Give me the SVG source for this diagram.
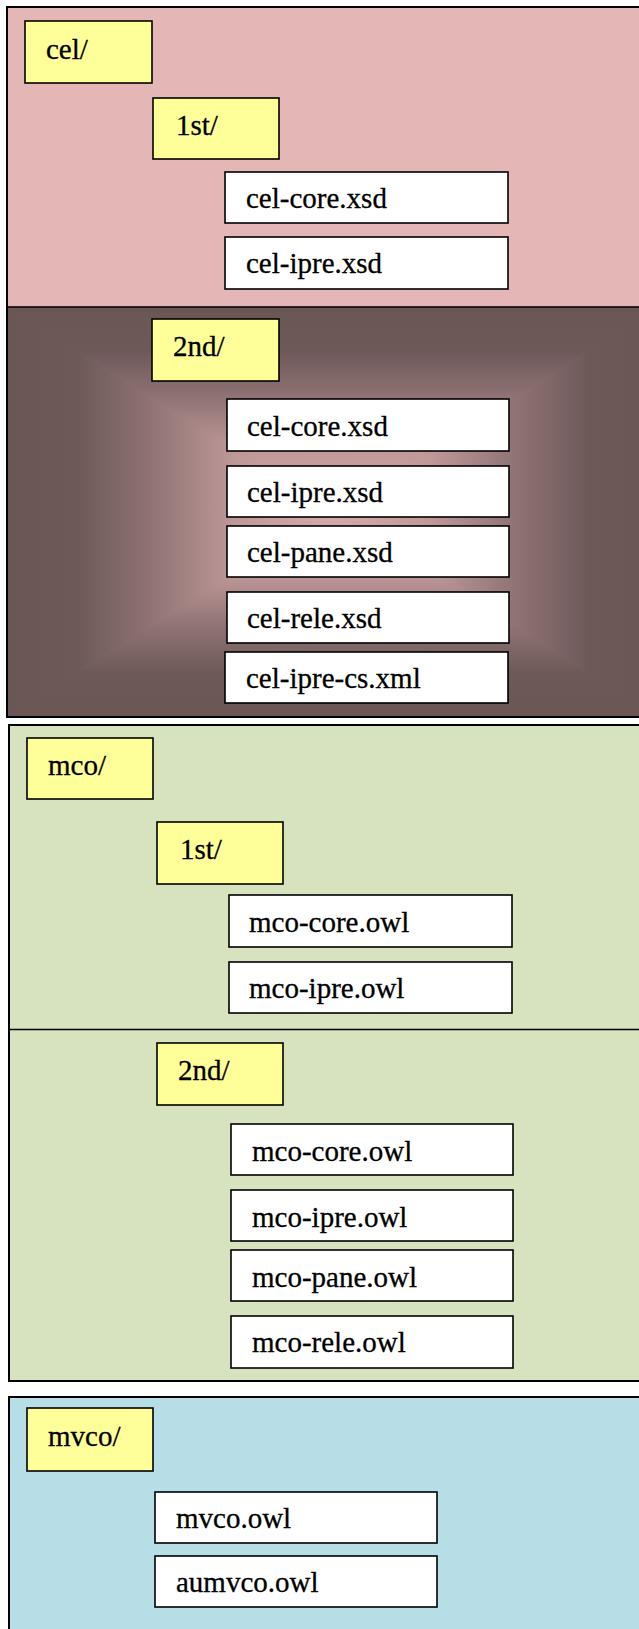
<svg xmlns="http://www.w3.org/2000/svg" width="639" height="1629" viewBox="0 0 639 1629">
  <defs>
    <style>
      .frame { stroke: #000; stroke-width: 2; }
      .divider { stroke: #000; stroke-width: 1.5; fill: none; }
      .folder { fill: #ffff99; stroke: #000; stroke-width: 1.6; }
      .file { fill: #ffffff; stroke: #000; stroke-width: 1.6; }
      .t { font-family: 'Liberation Serif', Tinos, 'DejaVu Serif', serif; font-size: 29px; fill: #000; stroke: #000; stroke-width: 0.3; }
    </style>
    <linearGradient id="gTop" gradientUnits="userSpaceOnUse" x1="0" y1="307" x2="0" y2="512">
      <stop offset="0" stop-color="#6b5656"/>
      <stop offset="0.22" stop-color="#6e5959"/>
      <stop offset="0.45" stop-color="#917475"/>
      <stop offset="0.7" stop-color="#bf9898"/>
      <stop offset="1" stop-color="#d8aaaa"/>
    </linearGradient>
    <linearGradient id="gBottom" href="#gTop" gradientUnits="userSpaceOnUse" x1="0" y1="717" x2="0" y2="512"/>
    <linearGradient id="gLeft" href="#gTop" gradientUnits="userSpaceOnUse" x1="7" y1="0" x2="333" y2="0"/>
    <linearGradient id="gRight" href="#gTop" gradientUnits="userSpaceOnUse" x1="660" y1="0" x2="333" y2="0"/>
  </defs>

  <!-- cel section -->
  <g id="cel-section">
    <rect x="7" y="7" width="653" height="300" fill="#e4b6b6"/>
    <g id="cel-2nd-bg">
      <rect x="7" y="307" width="653" height="410" fill="#8a6f6f"/>
      <polygon points="7,307 660,307 333,512" fill="url(#gTop)" stroke="url(#gTop)" stroke-width="0.6"/>
      <polygon points="7,717 660,717 333,512" fill="url(#gBottom)" stroke="url(#gBottom)" stroke-width="0.6"/>
      <polygon points="7,307 7,717 333,512" fill="url(#gLeft)" stroke="url(#gLeft)" stroke-width="0.6"/>
      <polygon points="660,307 660,717 333,512" fill="url(#gRight)" stroke="url(#gRight)" stroke-width="0.6"/>
    </g>
    <line class="divider" x1="7" y1="307" x2="660" y2="307"/>
    <rect class="frame" x="7" y="7" width="653" height="710" fill="none"/>
  </g>

  <g id="cel"><rect class="folder" x="25" y="21" width="127" height="62"/><text class="t" x="46" y="59">cel/</text></g>
  <g id="cel-1st"><rect class="folder" x="153" y="98" width="126" height="61"/><text class="t" x="176" y="135">1st/</text></g>
  <g id="cel-1st-core"><rect class="file" x="225" y="172" width="283" height="51"/><text class="t" x="246" y="208">cel-core.xsd</text></g>
  <g id="cel-1st-ipre"><rect class="file" x="225" y="237" width="283" height="52"/><text class="t" x="246" y="273">cel-ipre.xsd</text></g>
  <g id="cel-2nd"><rect class="folder" x="152" y="319" width="127" height="62"/><text class="t" x="173" y="356">2nd/</text></g>
  <g id="cel-2nd-core"><rect class="file" x="227" y="399" width="282" height="52"/><text class="t" x="247" y="436">cel-core.xsd</text></g>
  <g id="cel-2nd-ipre"><rect class="file" x="227" y="466" width="282" height="51"/><text class="t" x="247" y="502">cel-ipre.xsd</text></g>
  <g id="cel-2nd-pane"><rect class="file" x="227" y="526" width="282" height="51"/><text class="t" x="247" y="562">cel-pane.xsd</text></g>
  <g id="cel-2nd-rele"><rect class="file" x="227" y="592" width="282" height="51"/><text class="t" x="247" y="628">cel-rele.xsd</text></g>
  <g id="cel-2nd-ipre-cs"><rect class="file" x="225" y="652" width="283" height="51"/><text class="t" x="246" y="688">cel-ipre-cs.xml</text></g>

  <!-- mco section -->
  <g id="mco-section">
    <rect class="frame" x="9" y="725" width="651" height="656" fill="#d7e3bf"/>
    <line class="divider" x1="9" y1="1029.5" x2="660" y2="1029.5"/>
  </g>

  <g id="mco"><rect class="folder" x="27" y="738" width="126" height="61"/><text class="t" x="48" y="775">mco/</text></g>
  <g id="mco-1st"><rect class="folder" x="157" y="822" width="126" height="62"/><text class="t" x="180" y="859">1st/</text></g>
  <g id="mco-1st-core"><rect class="file" x="229" y="895" width="283" height="52"/><text class="t" x="249" y="932">mco-core.owl</text></g>
  <g id="mco-1st-ipre"><rect class="file" x="229" y="962" width="283" height="51"/><text class="t" x="249" y="998">mco-ipre.owl</text></g>
  <g id="mco-2nd"><rect class="folder" x="157" y="1043" width="126" height="62"/><text class="t" x="178" y="1080">2nd/</text></g>
  <g id="mco-2nd-core"><rect class="file" x="231" y="1124" width="282" height="51"/><text class="t" x="252" y="1161">mco-core.owl</text></g>
  <g id="mco-2nd-ipre"><rect class="file" x="231" y="1190" width="282" height="51"/><text class="t" x="252" y="1227">mco-ipre.owl</text></g>
  <g id="mco-2nd-pane"><rect class="file" x="231" y="1250" width="282" height="51"/><text class="t" x="252" y="1287">mco-pane.owl</text></g>
  <g id="mco-2nd-rele"><rect class="file" x="231" y="1316" width="282" height="52"/><text class="t" x="252" y="1352">mco-rele.owl</text></g>

  <!-- mvco section -->
  <g id="mvco-section">
    <rect class="frame" x="9" y="1397" width="651" height="260" fill="#b7dde7"/>
  </g>

  <g id="mvco"><rect class="folder" x="27" y="1408" width="126" height="63"/><text class="t" x="48" y="1446">mvco/</text></g>
  <g id="mvco-owl"><rect class="file" x="155" y="1492" width="282" height="51"/><text class="t" x="176" y="1528">mvco.owl</text></g>
  <g id="aumvco-owl"><rect class="file" x="155" y="1556" width="282" height="51"/><text class="t" x="176" y="1592">aumvco.owl</text></g>
</svg>
